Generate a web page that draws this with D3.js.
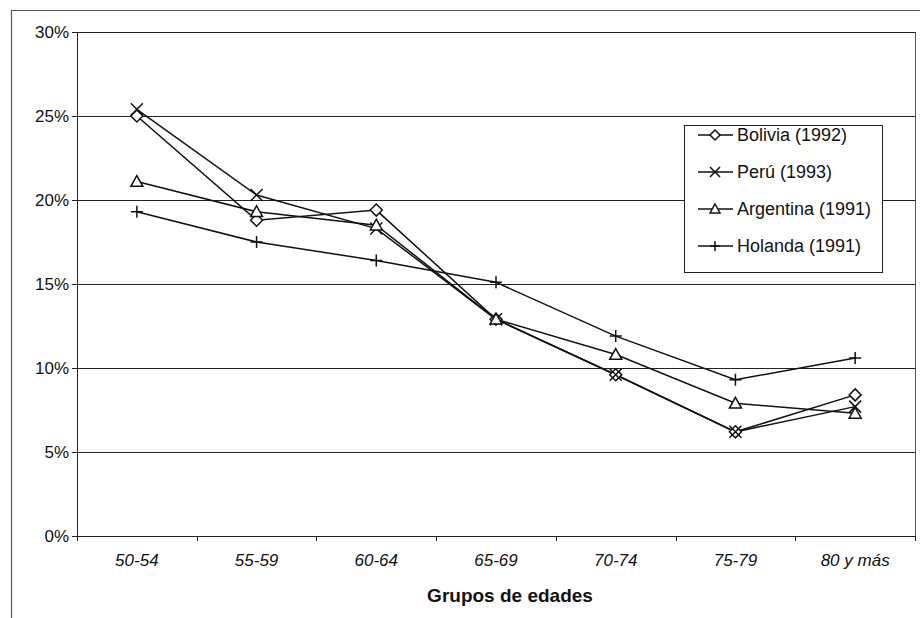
<!DOCTYPE html>
<html>
<head>
<meta charset="utf-8">
<script src="https://cdn.jsdelivr.net/npm/d3@7"></script>
<style>
  body { margin: 0; background: #fff; }
  text { font-family: "Liberation Sans", Arial, sans-serif; fill: #111; }
</style>
</head>
<body>
<div id="chart"></div>
<script>
// age groups and shares (%) per census
var categories = ['50-54', '55-59', '60-64', '65-69', '70-74', '75-79', '80 y más'];
var bolivia   = [25.0, 18.8, 19.4, 12.9, 9.6, 6.2, 8.4];
var peru      = [25.4, 20.3, 18.3, 12.9, 9.6, 6.2, 7.7];
var argentina = [21.1, 19.3, 18.5, 12.9, 10.8, 7.9, 7.3];
var holanda   = [19.3, 17.5, 16.4, 15.1, 11.9, 9.3, 10.6];
var seriesNames = ['Bolivia (1992)', 'Perú (1993)', 'Argentina (1991)', 'Holanda (1991)'];
var symbols = ['diamond', 'cross', 'triangle', 'plus'];
var yTicks = [0, 5, 10, 15, 20, 25, 30];

var series = [bolivia, peru, argentina, holanda].map(function(v, i) {
    return { name: seriesNames[i], symbol: symbols[i], values: v };
});

var W = 920, H = 618;
var margin = {top: 32, right: 5, bottom: 82, left: 77},
    width = W - margin.left - margin.right,
    height = H - margin.top - margin.bottom;

var svg = d3.select('#chart').append('svg')
    .attr('width', W)
    .attr('height', H);

// outer chart frame (left and top edges visible)
svg.append('path')
    .attr('d', 'M11.5,618 V10.5 H920')
    .style('fill', 'none')
    .style('stroke', '#555')
    .style('stroke-width', 1.2);

var g = svg.append('g')
    .attr('transform', 'translate(' + margin.left + ',' + margin.top + ')');

var x = d3.scaleBand().domain(categories).range([0, width]);
var y = d3.scaleLinear().domain([0, 30]).range([height, 0]);

// gridlines
g.selectAll('line.grid').data(yTicks).enter().append('line')
    .attr('class', 'grid')
    .attr('x1', 0).attr('x2', width)
    .attr('y1', d => Math.round(y(d)) + 0.5).attr('y2', d => Math.round(y(d)) + 0.5)
    .style('stroke', '#222')
    .style('stroke-width', 1);

// plot area right edge
g.append('line')
    .attr('x1', width + 0.5).attr('x2', width + 0.5)
    .attr('y1', 0).attr('y2', height)
    .style('stroke', '#555');

// axes
var yAxis = d3.axisLeft(y).tickValues(yTicks).tickSize(5).tickPadding(3)
    .tickFormat(d => d + '%');
var yg = g.append('g').call(yAxis);
yg.select('.domain').attr('d', 'M0.5,' + height + 'V0');
yg.selectAll('text').style('font-size', '17px').style('fill', '#111');
yg.selectAll('line').style('stroke', '#222');
yg.select('.domain').style('stroke', '#222');

var xAxis = d3.axisBottom(x).tickSize(0).tickPadding(18);
var xg = g.append('g').attr('transform', 'translate(0,' + height + ')').call(xAxis);
xg.select('.domain').remove();
xg.selectAll('text').style('font-size', '17px').style('font-style', 'italic').style('fill', '#111');

// category boundary ticks
var bounds = categories.map(d => x(d)).concat([width]);
xg.selectAll('line.bound').data(bounds).enter().append('line')
    .attr('class', 'bound')
    .attr('x1', d => Math.round(d) + 0.5).attr('x2', d => Math.round(d) + 0.5)
    .attr('y1', 0).attr('y2', 5)
    .style('stroke', '#222');

// axis title
g.append('text')
    .attr('x', 510 - margin.left)
    .attr('y', 602 - margin.top)
    .attr('text-anchor', 'middle')
    .style('font-size', '19px')
    .style('font-weight', 'bold')
    .text('Grupos de edades');

var cx = d => x(d) + x.bandwidth() / 2;

var line = d3.line()
    .x((d, i) => cx(categories[i]))
    .y(d => y(d));

// marker drawing
function drawMarker(sel, type, s) {
    if (type === 'diamond') {
        sel.append('path')
            .attr('d', 'M0,' + (-s) + 'L' + s + ',0L0,' + s + 'L' + (-s) + ',0Z')
            .style('fill', '#fff').style('stroke', '#111').style('stroke-width', 1.5);
    } else if (type === 'triangle') {
        sel.append('path')
            .attr('d', 'M0,' + (-s) + 'L' + s + ',' + (s * 0.8) + 'L' + (-s) + ',' + (s * 0.8) + 'Z')
            .style('fill', '#fff').style('stroke', '#111').style('stroke-width', 1.5);
    } else if (type === 'cross') {
        sel.append('path')
            .attr('d', 'M' + (-s) + ',' + (-s) + 'L' + s + ',' + s + 'M' + s + ',' + (-s) + 'L' + (-s) + ',' + s)
            .style('fill', 'none').style('stroke', '#111').style('stroke-width', 1.5);
    } else {
        sel.append('path')
            .attr('d', 'M' + (-s) + ',0H' + s + 'M0,' + (-s) + 'V' + s)
            .style('fill', 'none').style('stroke', '#111').style('stroke-width', 1.5);
    }
}

series.forEach(function(sr) {
    g.append('path')
        .attr('d', line(sr.values))
        .style('fill', 'none')
        .style('stroke', '#111')
        .style('stroke-width', 1.5);
});

series.forEach(function(sr) {
    sr.values.forEach(function(v, i) {
        var m = g.append('g')
            .attr('transform', 'translate(' + cx(categories[i]) + ',' + y(v) + ')');
        drawMarker(m, sr.symbol, 6);
    });
});

// legend
var lg = svg.append('g').attr('transform', 'translate(684,125)');
lg.append('rect')
    .attr('x', 0.5).attr('y', 0.5)
    .attr('width', 198).attr('height', 147)
    .style('fill', '#fff')
    .style('stroke', '#222');

series.forEach(function(sr, i) {
    var row = lg.append('g').attr('transform', 'translate(0,' + (10 + i * 37) + ')');
    row.append('line')
        .attr('x1', 14).attr('x2', 49)
        .attr('y1', 0).attr('y2', 0)
        .style('stroke', '#111').style('stroke-width', 1.5);
    var m = row.append('g').attr('transform', 'translate(31,0)');
    drawMarker(m, sr.symbol, 5);
    row.append('text')
        .attr('x', 53).attr('y', 6)
        .style('font-size', '18px')
        .text(sr.name);
});
</script>
</body>
</html>
